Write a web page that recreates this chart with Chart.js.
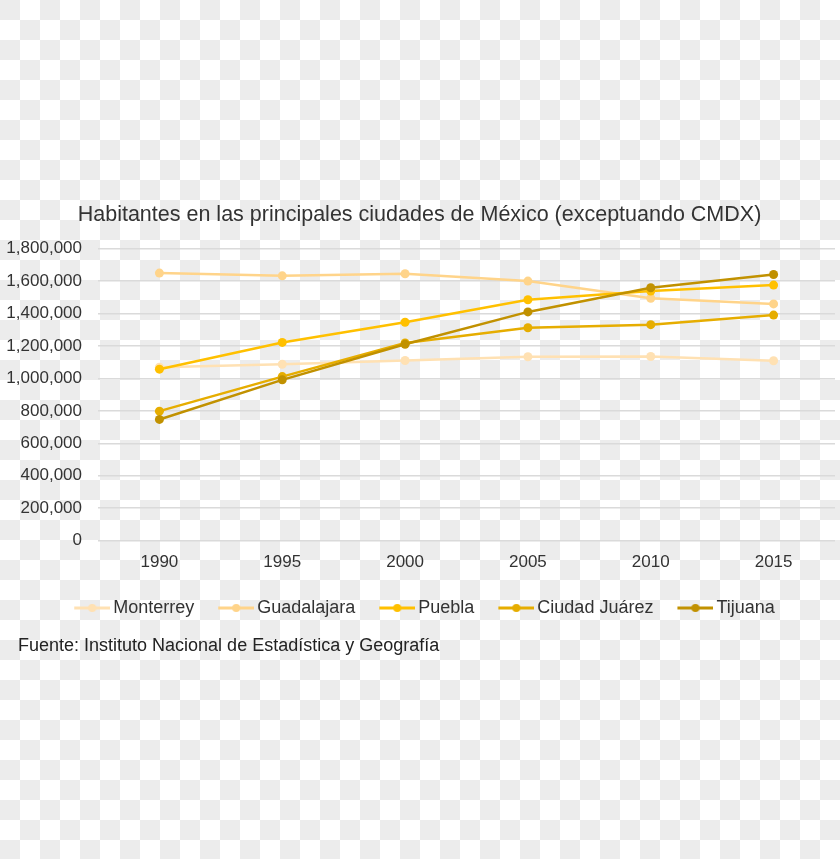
<!DOCTYPE html>
<html>
<head>
<meta charset="utf-8">
<script src="https://cdn.jsdelivr.net/npm/chart.js@4"></script>
<style>
  html, body { margin: 0; padding: 0; }
  body {
    width: 840px; height: 859px; overflow: hidden;
    background-color: #ffffff;
    background-image:
      linear-gradient(45deg, #ececec 25%, transparent 25%, transparent 75%, #ececec 75%),
      linear-gradient(45deg, #ececec 25%, transparent 25%, transparent 75%, #ececec 75%);
    background-size: 40px 40px;
    background-position: 20px 0, 0 20px;
  }
  #wrap { position: absolute; left: 0; top: 0; width: 840px; height: 859px; }
</style>
</head>
<body>
<div id="wrap"><canvas id="chart"></canvas></div>
<script>
const years = ['1990', '1995', '2000', '2005', '2010', '2015'];

const monterrey   = [1069238, 1088143, 1110997, 1133814, 1135550, 1109171];
const guadalajara = [1650205, 1633053, 1646319, 1600940, 1495189, 1460148];
const puebla      = [1057454, 1222569, 1346916, 1485941, 1539819, 1576259];
const ciudadJuarez = [798499, 1011786, 1218817, 1313338, 1332131, 1391180];
const tijuana     = [747381, 991592, 1210820, 1410687, 1559683, 1641570];

const seriesNames = ['Monterrey', 'Guadalajara', 'Puebla', 'Ciudad Juárez', 'Tijuana'];
const seriesData = [monterrey, guadalajara, puebla, ciudadJuarez, tijuana];
const colors = ['#ffe1b3', '#ffd48a', '#ffc000', '#e6ad00', '#c19100'];

const sourceNote = 'Fuente: Instituto Nacional de Estadística y Geografía';

const FONT = '"Liberation Sans", Arial, sans-serif';

// legend marker: short line with a dot in the middle (left part of the image is blank)
function legendMarker(color) {
    const c = document.createElement('canvas');
    c.width = 52;
    c.height = 12;
    const g = c.getContext('2d');
    g.strokeStyle = color;
    g.lineWidth = 2.8;
    g.beginPath();
    g.moveTo(16, 6);
    g.lineTo(52, 6);
    g.stroke();
    g.fillStyle = color;
    g.beginPath();
    g.arc(34, 6, 4, 0, Math.PI * 2);
    g.fill();
    return c;
}

const markers = colors.map(legendMarker);

// source line under the legend, left aligned
const sourcePlugin = {
    id: 'sourcePlugin',
    afterDraw(chart) {
        const ctx = chart.ctx;
        const legend = chart.legend;
        ctx.save();
        ctx.font = '18px ' + FONT;
        ctx.fillStyle = '#222222';
        ctx.textBaseline = 'middle';
        ctx.textAlign = 'left';
        ctx.fillText(sourceNote, 18, legend.bottom + 19);
        ctx.restore();
    }
};

const datasets = seriesNames.map((name, i) => ({
    label: name,
    data: seriesData[i],
    borderColor: colors[i],
    backgroundColor: colors[i],
    borderWidth: 2.5,
    pointRadius: 4.5,
    pointHoverRadius: 4.5,
    pointBorderWidth: 0,
    tension: 0,
    order: seriesNames.length - i
}));

new Chart(document.getElementById('chart'), {
    type: 'line',
    data: { labels: years, datasets: datasets },
    plugins: [sourcePlugin],
    options: {
        responsive: true,
        maintainAspectRatio: false,
        animation: false,
        layout: { padding: { left: 4, right: 5, top: 0, bottom: 232 } },
        scales: {
            x: {
                offset: true,
                grid: { display: false, drawTicks: false },
                border: { display: false },
                ticks: { color: '#333333', font: { family: FONT, size: 17 }, padding: 12 }
            },
            y: {
                min: 0,
                max: 1800000,
                afterFit: scale => { scale.width = 94; },
                grid: { color: '#dadada', lineWidth: 1.5, drawTicks: false },
                border: { display: false },
                ticks: {
                    stepSize: 200000,
                    color: '#333333',
                    font: { family: FONT, size: 17 },
                    padding: 16,
                    callback: v => v.toLocaleString('en-US')
                }
            }
        },
        plugins: {
            title: {
                display: true,
                text: 'Habitantes en las principales ciudades de México (exceptuando CMDX)',
                color: '#333333',
                font: { family: FONT, size: 21.5, weight: 'normal' },
                padding: { top: 202, bottom: 21 }
            },
            legend: {
                position: 'bottom',
                labels: {
                    usePointStyle: true,
                    pointStyleWidth: 40,
                    padding: 14,
                    color: '#333333',
                    font: { family: FONT, size: 18 },
                    generateLabels: chart => chart.data.datasets.map((ds, i) => ({
                        text: ds.label,
                        pointStyle: markers[i],
                        fillStyle: ds.borderColor,
                        strokeStyle: ds.borderColor,
                        lineWidth: 0,
                        hidden: false,
                        datasetIndex: i,
                        fontColor: '#333333'
                    }))
                }
            },
            tooltip: { enabled: false }
        }
    }
});
</script>
</body>
</html>
